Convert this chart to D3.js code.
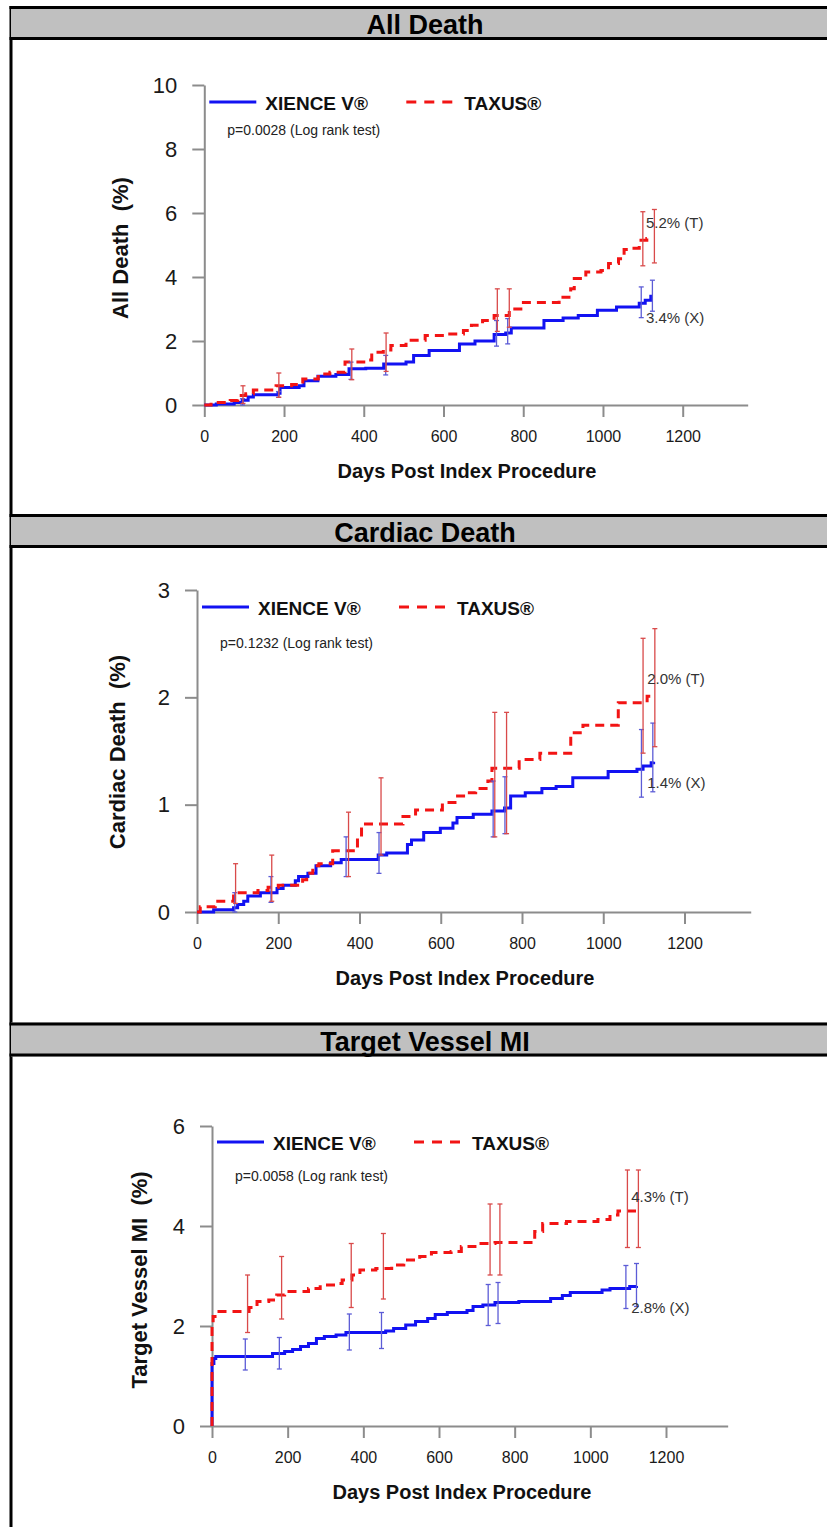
<!DOCTYPE html>
<html>
<head>
<meta charset="utf-8">
<script src="https://cdn.jsdelivr.net/npm/d3@7"></script>
<style>
  body { margin: 0; background: #fff; }
  svg { display: block; }
  text { font-family: "Liberation Sans", Arial, sans-serif; }
</style>
</head>
<body>
<svg id="chart" width="827" height="1527"></svg>
<script>
// panel titles and axis text
var headers = ["All Death", "Cardiac Death", "Target Vessel MI"];
var yTitles = ["All Death  (%)", "Cardiac Death  (%)", "Target Vessel MI  (%)"];
var xTitle = "Days Post Index Procedure";
var seriesNames = ["XIENCE V\u00AE", "TAXUS\u00AE"];
var pValues = ["p=0.0028 (Log rank test)", "p=0.1232 (Log rank test)", "p=0.0058 (Log rank test)"];
var endLabels = [["5.2% (T)", "3.4% (X)"], ["2.0% (T)", "1.4% (X)"], ["4.3% (T)", "2.8% (X)"]];

var xTicks = [0, 200, 400, 600, 800, 1000, 1200];
var xMax = 1363;
var yMax = [10, 3, 6];
var yTicksAll = [0, 2, 4, 6, 8, 10];
var yTicksCardiac = [0, 1, 2, 3];
var yTicksTvmi = [0, 2, 4, 6];

// Kaplan-Meier steps, [day, %]
var allDeathX = [[0,0],[30,0.03],[75,0.08],[95,0.15],[110,0.25],[123,0.32],[185,0.37],[190,0.55],[238,0.6],[250,0.76],[285,0.9],[330,0.95],[363,1.13],[405,1.15],[450,1.28],[506,1.34],[525,1.55],[564,1.7],[640,1.91],[679,2.0],[727,2.2],[756,2.25],[770,2.41],[852,2.64],[900,2.72],[938,2.8],[986,2.96],[1034,3.06],[1091,3.18],[1106,3.27],[1120,3.4],[1125,3.4]];
var allDeathT = [[0,0],[17,0.08],[65,0.14],[84,0.3],[104,0.35],[123,0.47],[180,0.6],[219,0.64],[247,0.81],[286,0.97],[315,1.02],[353,1.34],[400,1.41],[420,1.65],[449,1.72],[468,1.86],[506,2.02],[554,2.17],[602,2.22],[650,2.33],[670,2.49],[698,2.64],[727,2.8],[765,3.0],[794,3.2],[852,3.2],[890,3.37],[919,3.63],[928,3.95],[957,4.16],[995,4.2],[1014,4.42],[1039,4.57],[1053,4.86],[1072,4.9],[1091,5.15],[1110,5.2],[1125,5.2]];
var cardiacX = [[0,0],[39,0],[41,0.02],[90,0.04],[100,0.07],[115,0.1],[125,0.15],[156,0.18],[197,0.22],[212,0.25],[242,0.29],[250,0.33],[273,0.36],[293,0.43],[329,0.46],[355,0.49],[446,0.53],[467,0.55],[518,0.63],[528,0.67],[558,0.74],[599,0.78],[630,0.83],[640,0.88],[680,0.91],[726,0.94],[757,0.97],[772,1.08],[808,1.11],[849,1.15],[884,1.17],[925,1.25],[1012,1.31],[1083,1.33],[1098,1.36],[1118,1.39],[1124,1.4]];
var cardiacT = [[0,0],[8,0.05],[45,0.1],[90,0.18],[150,0.2],[175,0.23],[200,0.25],[260,0.3],[270,0.36],[285,0.43],[300,0.45],[334,0.57],[395,0.7],[405,0.82],[507,0.89],[538,0.95],[604,1.02],[635,1.08],[665,1.11],[686,1.15],[716,1.22],[726,1.34],[793,1.42],[844,1.48],[920,1.67],[950,1.74],[1037,1.95],[1108,2.01],[1124,2.01]];
var tvmiX = [[0,0],[0,1.25],[5,1.35],[10,1.39],[160,1.45],[192,1.49],[213,1.53],[234,1.59],[255,1.65],[276,1.75],[297,1.79],[328,1.82],[354,1.87],[459,1.9],[480,1.95],[512,2.02],[538,2.09],[570,2.15],[590,2.23],[622,2.27],[674,2.31],[690,2.39],[716,2.42],[748,2.47],[811,2.49],[895,2.55],[926,2.61],[947,2.67],[1031,2.72],[1052,2.75],[1104,2.79],[1122,2.8]];
var tvmiT = [[0,0],[0,1.99],[3,2.19],[8,2.29],[98,2.37],[119,2.49],[150,2.52],[171,2.62],[192,2.69],[255,2.75],[286,2.82],[328,2.85],[344,2.92],[370,3.02],[391,3.12],[433,3.15],[475,3.22],[507,3.32],[549,3.39],[580,3.47],[632,3.49],[659,3.59],[695,3.65],[748,3.67],[853,3.89],[874,4.05],[937,4.09],[1020,4.13],[1052,4.22],[1073,4.3],[1122,4.3]];

// confidence bars, [day, low, high]
var allDeathXErr = [[96,0,0.2],[186,0.24,0.42],[368,0.8,1.34],[455,0.94,1.55],[733,1.84,2.64],[761,1.91,2.7],[1096,2.73,3.69],[1124,2.93,3.9]];
var allDeathTErr = [[97,0.05,0.6],[187,0.24,1.0],[370,0.79,1.75],[456,1.05,2.25],[735,2.3,3.63],[765,2.43,3.63],[1100,4.35,6.04],[1129,4.44,6.11]];
var cardiacXErr = [[93,0,0.18],[182,0.09,0.33],[367,0.33,0.7],[448,0.36,0.74],[729,0.7,1.22],[758,0.73,1.26],[1094,1.07,1.7],[1122,1.12,1.76]];
var cardiacTErr = [[95,0.08,0.45],[184,0.1,0.53],[373,0.33,0.93],[453,0.53,1.25],[733,0.7,1.86],[762,0.73,1.86],[1098,1.48,2.55],[1127,1.54,2.64]];
var tvmiXErr = [[88,1.12,1.74],[178,1.14,1.77],[363,1.52,2.24],[448,1.55,2.27],[730,2.01,2.83],[756,2.05,2.87],[1094,2.35,3.21],[1122,2.39,3.25]];
var tvmiTErr = [[94,1.87,3.02],[184,2.14,3.39],[368,2.37,3.65],[453,2.54,3.85],[735,3.02,4.44],[761,3.02,4.44],[1098,3.57,5.12],[1127,3.57,5.12]];

var seriesX = [allDeathX, cardiacX, tvmiX];
var seriesT = [allDeathT, cardiacT, tvmiT];
var errX = [allDeathXErr, cardiacXErr, tvmiXErr];
var errT = [allDeathTErr, cardiacTErr, tvmiTErr];
var yTicks = [yTicksAll, yTicksCardiac, yTicksTvmi];

// page layout for the three table rows
var layout = [
	{top: 6, x0: 204.3, x1200: 682.7, yBottom: 405, yTop: 85, legendY: 102, pY: 135, yTitleX: 120, yTitleY: 248, xTitleX: 467, labelT: 5.53, labelX: 2.55},
	{top: 514, x0: 197, x1200: 684.5, yBottom: 912, yTop: 590, legendY: 607, pY: 648, yTitleX: 117, yTitleY: 752, xTitleX: 465, labelT: 2.12, labelX: 1.156},
	{top: 1022.5, x0: 212, x1200: 666, yBottom: 1426, yTop: 1126, legendY: 1142, pY: 1181, yTitleX: 139, yTitleY: 1280, xTitleX: 462, labelT: 4.48, labelX: 2.26}
];

var blue = "#1212f2", red = "#f21414";
var blueBar = "#5c5cd6", redBar = "#d94a4a";
var axisGray = "#8c8c8c";

var svg = d3.select("#chart");

// outer table border on the left
svg.append("line")
	.attr("x1", 11).attr("x2", 11)
	.attr("y1", 6).attr("y2", 1527)
	.attr("stroke", "#000").attr("stroke-width", 3);

layout.forEach(function(L, i) {
	// header band
	svg.append("rect")
		.attr("x", 11).attr("y", L.top)
		.attr("width", 827 - 11).attr("height", 34)
		.attr("fill", "#c0c0c0");
	[L.top + 1.5, L.top + 32.5].forEach(function(yy) {
		svg.append("line")
			.attr("x1", 9.5).attr("x2", 827)
			.attr("y1", yy).attr("y2", yy)
			.attr("stroke", "#000").attr("stroke-width", 3);
	});
	svg.append("text")
		.attr("x", 425).attr("y", L.top + 28)
		.attr("text-anchor", "middle")
		.style("font-size", "27px").style("font-weight", "bold")
		.attr("fill", "#000")
		.text(headers[i]);

	var x = d3.scaleLinear()
		.domain([0, xMax])
		.range([L.x0, L.x0 + xMax * (L.x1200 - L.x0) / 1200]);
	var y = d3.scaleLinear()
		.domain([0, yMax[i]])
		.range([L.yBottom, L.yTop]);

	var g = svg.append("g");

	var xAxis = g.append("g")
		.attr("transform", "translate(0," + L.yBottom + ")")
		.call(d3.axisBottom(x).tickValues(xTicks).tickSize(12).tickSizeOuter(0).tickPadding(14).tickFormat(d3.format("d")));
	var yAxis = g.append("g")
		.attr("transform", "translate(" + L.x0 + ",0)")
		.call(d3.axisLeft(y).tickValues(yTicks[i]).tickSize(12).tickSizeOuter(0).tickPadding(15).tickFormat(d3.format("d")));

	[xAxis, yAxis].forEach(function(a) {
		a.attr("color", axisGray);
		a.selectAll("path, line").attr("stroke-width", 2);
		a.selectAll("text").attr("fill", "#1a1a1a");
	});
	xAxis.selectAll("text").style("font-size", "16px");
	yAxis.selectAll("text").style("font-size", "22px");

	// axis titles
	g.append("text")
		.attr("x", L.xTitleX).attr("y", L.yBottom + 73)
		.attr("text-anchor", "middle")
		.style("font-size", "20px").style("font-weight", "bold")
		.attr("fill", "#111")
		.text(xTitle);
	g.append("text")
		.attr("transform", "translate(" + L.yTitleX + "," + L.yTitleY + ") rotate(-90)")
		.attr("text-anchor", "middle")
		.attr("dominant-baseline", "central")
		.style("font-size", "22px").style("font-weight", "bold")
		.style("white-space", "pre")
		.attr("fill", "#111")
		.text(yTitles[i]);

	// step curves
	var line = d3.line()
		.x(function(d) { return x(d[0]); })
		.y(function(d) { return y(d[1]); })
		.curve(d3.curveStepAfter);

	g.append("path")
		.datum(seriesX[i])
		.attr("d", line)
		.attr("fill", "none")
		.attr("stroke", blue)
		.attr("stroke-width", 3);
	g.append("path")
		.datum(seriesT[i])
		.attr("d", line)
		.attr("fill", "none")
		.attr("stroke", red)
		.attr("stroke-width", 3)
		.attr("stroke-dasharray", "9,6");

	// confidence bars
	function bars(data, color) {
		var b = g.append("g").attr("stroke", color).attr("stroke-width", 1.3);
		data.forEach(function(d) {
			var cx = x(d[0]);
			b.append("line").attr("x1", cx).attr("x2", cx).attr("y1", y(d[1])).attr("y2", y(d[2]));
			b.append("line").attr("x1", cx - 2.5).attr("x2", cx + 2.5).attr("y1", y(d[1])).attr("y2", y(d[1]));
			b.append("line").attr("x1", cx - 2.5).attr("x2", cx + 2.5).attr("y1", y(d[2])).attr("y2", y(d[2]));
		});
	}
	bars(errX[i], blueBar);
	bars(errT[i], redBar);

	// end-point labels
	[L.labelT, L.labelX].forEach(function(v, k) {
		g.append("text")
			.attr("x", x(1108)).attr("y", y(v))
			.style("font-size", "15px")
			.attr("fill", "#333")
			.text(endLabels[i][k]);
	});

	// legend
	var ly = L.legendY;
	g.append("line")
		.attr("x1", L.x0 + 5).attr("x2", L.x0 + 52)
		.attr("y1", ly).attr("y2", ly)
		.attr("stroke", blue).attr("stroke-width", 3);
	g.append("line")
		.attr("x1", L.x0 + 202).attr("x2", L.x0 + 248)
		.attr("y1", ly).attr("y2", ly)
		.attr("stroke", red).attr("stroke-width", 3)
		.attr("stroke-dasharray", "10,8");
	[L.x0 + 61, L.x0 + 260].forEach(function(tx, k) {
		g.append("text")
			.attr("x", tx).attr("y", ly + 8)
			.style("font-size", "19px").style("font-weight", "bold")
			.attr("fill", "#111")
			.text(seriesNames[k]);
	});
	g.append("text")
		.attr("x", L.x0 + 23).attr("y", L.pY)
		.style("font-size", "14px")
		.attr("fill", "#222")
		.text(pValues[i]);
});
</script>
</body>
</html>
